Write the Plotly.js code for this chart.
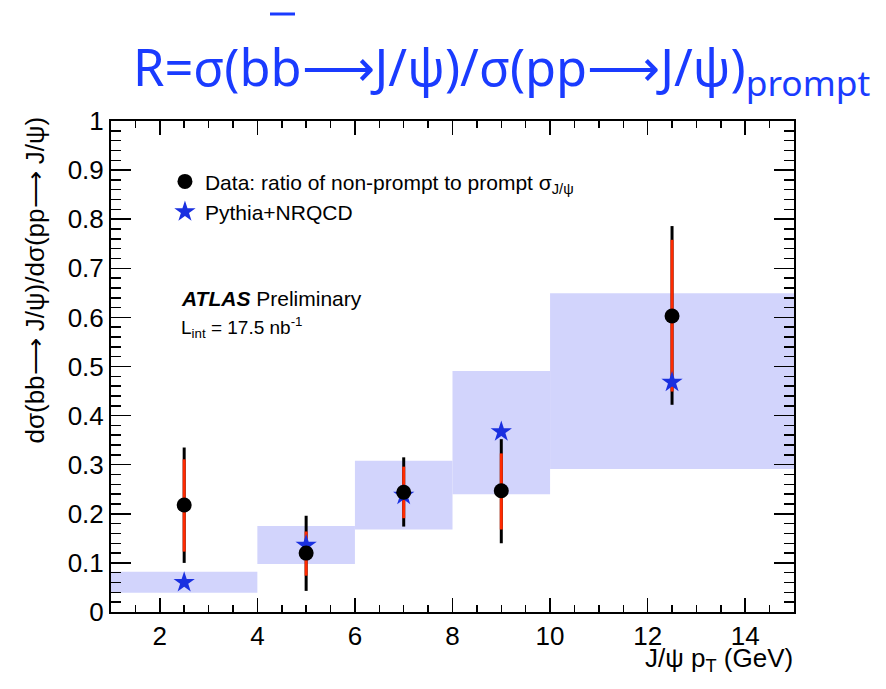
<!DOCTYPE html>
<html>
<head>
<meta charset="utf-8">
<script src="https://cdn.plot.ly/plotly-3.0.1.min.js"></script>
<style>html,body{margin:0;padding:0;background:#fff;}#chart{width:886px;height:689px;}</style>
</head>
<body>
<div id="chart"></div>
<script>
// J/psi pT bins
var binEdges = [1, 4, 6, 8, 10, 15];
// Data: ratio of non-prompt to prompt
var dataX = [2.5, 5, 7, 9, 12.5];
var dataY = [0.218, 0.120, 0.244, 0.247, 0.603];
var statUp = [0.093, 0.044, 0.052, 0.076, 0.155];
var statDown = [0.095, 0.046, 0.053, 0.079, 0.154];
var totUp = [0.117, 0.076, 0.071, 0.105, 0.183];
var totDown = [0.118, 0.077, 0.070, 0.107, 0.181];
// Pythia+NRQCD prediction and band
var pythiaY = [0.060, 0.136, 0.238, 0.367, 0.468];
var bandLow = [0.039, 0.098, 0.168, 0.240, 0.291];
var bandHigh = [0.082, 0.175, 0.308, 0.491, 0.649];

var binCenters = [], binWidths = [], bandSize = [];
for (var i = 0; i < binEdges.length - 1; i++) {
  binCenters.push((binEdges[i] + binEdges[i + 1]) / 2);
  binWidths.push(binEdges[i + 1] - binEdges[i]);
  bandSize.push(bandHigh[i] - bandLow[i]);
}

var F = 'Liberation Sans, Arial, Helvetica, sans-serif';
var blue = '#1a30e0';
var titleBlue = '#1a3bff';

var traces = [
  {type: 'bar', x: binCenters, y: bandSize, base: bandLow, width: binWidths,
   marker: {color: 'rgb(210,212,252)', line: {width: 0}}, showlegend: false, hoverinfo: 'skip'},
  {type: 'scatter', mode: 'markers', x: dataX, y: dataY,
   marker: {size: 1, color: 'rgba(0,0,0,0)'},
   error_y: {type: 'data', symmetric: false, array: totUp, arrayminus: totDown, color: '#000', thickness: 3, width: 0},
   showlegend: false},
  {type: 'scatter', mode: 'markers', x: dataX, y: dataY,
   marker: {size: 1, color: 'rgba(0,0,0,0)'},
   error_y: {type: 'data', symmetric: false, array: statUp, arrayminus: statDown, color: '#ff2a00', thickness: 3, width: 0},
   showlegend: false},
  {type: 'scatter', mode: 'markers', x: binCenters, y: pythiaY, name: 'Pythia+NRQCD',
   marker: {symbol: 'star', size: 16, color: blue}, legendgroup: 'b', legendrank: 2},
  {type: 'scatter', mode: 'markers', x: dataX, y: dataY,
   name: 'Data: ratio of non-prompt to prompt σ<sub>J/ψ</sub>',
   marker: {symbol: 'circle', size: 15, color: '#000'}, legendgroup: 'a', legendrank: 1}
];

var layout = {
  width: 886, height: 689,
  margin: {l: 111, r: 92, t: 121, b: 77, pad: 0},
  paper_bgcolor: '#fff', plot_bgcolor: '#fff',
  font: {family: F, color: '#000'},
  title: {text: 'R=σ(bb⟶J/ψ)/σ(pp⟶J/ψ)<sub>prompt</sub>',
          font: {family: 'Noto Sans, sans-serif', size: 50.5, color: titleBlue},
          x: 133 / 886, xref: 'container', xanchor: 'left', y: 1 - 68 / 689, yref: 'container', yanchor: 'middle'},
  showlegend: true,
  legend: {x: 0.079, y: 0.918, xanchor: 'left', yanchor: 'top', bgcolor: 'rgba(0,0,0,0)',
           font: {family: F, size: 21}, tracegroupgap: 4, traceorder: 'normal'},
  xaxis: {range: [1, 15], tick0: 0, dtick: 2, ticks: 'inside', ticklen: 14, tickwidth: 1.5, tickcolor: '#000',
          showline: true, linewidth: 2, linecolor: '#000', mirror: 'ticks', showgrid: false, zeroline: false,
          tickfont: {family: F, size: 26},
          minor: {dtick: 0.5, ticks: 'inside', ticklen: 7, tickwidth: 1.5, tickcolor: '#000', showgrid: false}},
  yaxis: {range: [0, 1], tick0: 0, dtick: 0.1, ticks: 'inside', ticklen: 20, tickwidth: 1.5, tickcolor: '#000',
          showline: true, linewidth: 2, linecolor: '#000', mirror: 'ticks', showgrid: false, zeroline: false,
          tickfont: {family: F, size: 26},
          minor: {dtick: 0.02, ticks: 'inside', ticklen: 10, tickwidth: 1.5, tickcolor: '#000', showgrid: false}},
  shapes: [
    {type: 'line', xref: 'paper', yref: 'paper', x0: (270 - 111) / 683, x1: (295 - 111) / 683,
     y0: (612 - 14) / 491, y1: (612 - 14) / 491, line: {color: titleBlue, width: 3}}
  ],
  annotations: [
    {text: 'dσ(bb⟶ J/ψ)/dσ(pp⟶ J/ψ)', textangle: -90, xref: 'paper', yref: 'paper',
     x: (34 - 111) / 683, y: (612 - 115) / 491, xanchor: 'center', yanchor: 'top', showarrow: false,
     font: {family: F, size: 26}},
    {text: 'J/ψ p<sub>T</sub> (GeV)', xref: 'paper', yref: 'paper', x: 1.002, y: (612 - 641) / 491,
     xanchor: 'right', yanchor: 'top', showarrow: false, font: {family: F, size: 26}},
    {text: '<b><i>ATLAS</i></b> Preliminary', xref: 'paper', yref: 'paper', x: (179 - 111) / 683,
     y: (612 - 298) / 491, xanchor: 'left', yanchor: 'middle', showarrow: false, font: {family: F, size: 21}},
    {text: 'L<sub>int</sub> = 17.5 nb<sup>-1</sup>', xref: 'paper', yref: 'paper', x: (179 - 111) / 683,
     y: (612 - 327) / 491, xanchor: 'left', yanchor: 'middle', showarrow: false, font: {family: F, size: 19}}
  ]
};

Plotly.newPlot('chart', traces, layout, {displayModeBar: false, staticPlot: true});
</script>
</body>
</html>
